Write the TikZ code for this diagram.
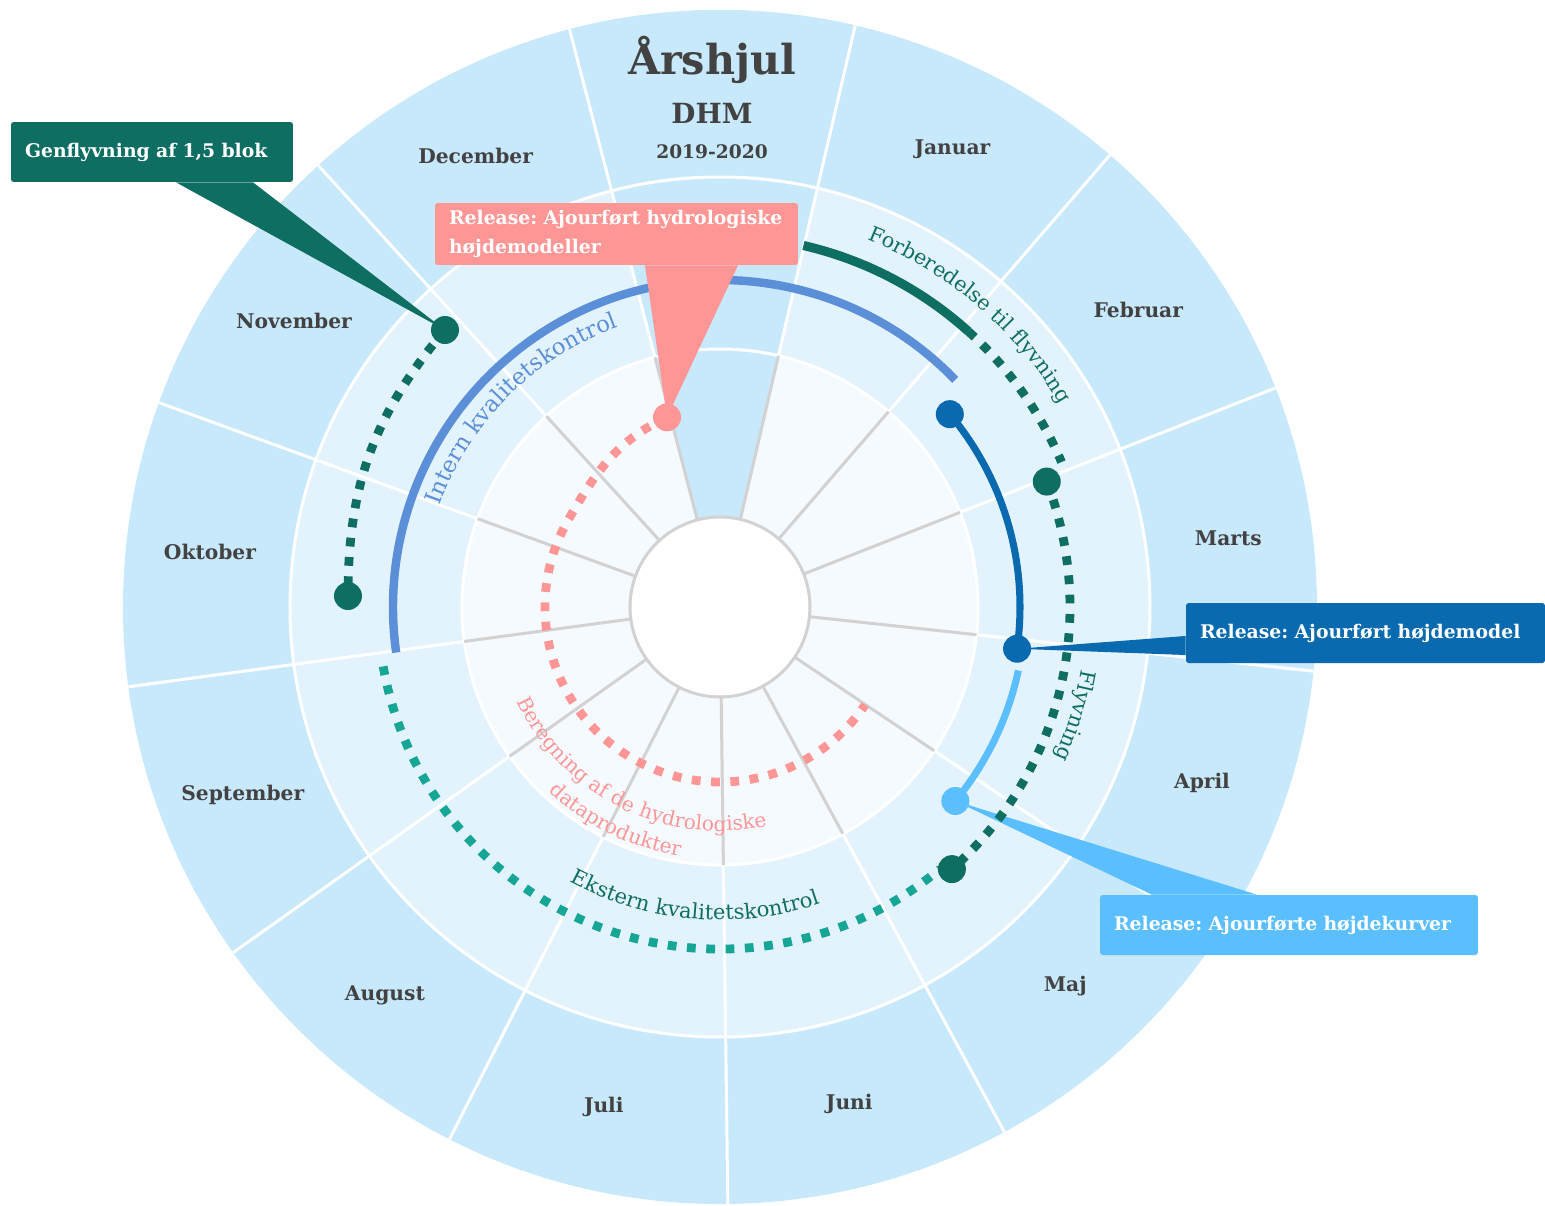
\documentclass[tikz,border=0pt]{standalone}
\usepackage{fontspec}
\setmainfont{DejaVu Serif}
\usetikzlibrary{calc, decorations.text}
\frenchspacing

\definecolor{ringout}{HTML}{C8E8FC}
\definecolor{ringmid}{HTML}{E3F3FE}
\definecolor{ringin}{HTML}{F5FAFF}
\definecolor{spoke}{HTML}{D2D2D2}
\definecolor{inktext}{HTML}{424242}
\definecolor{flygreen}{HTML}{0F6E62}
\definecolor{extteal}{HTML}{16A696}
\definecolor{intblue}{HTML}{5B8FD8}
\definecolor{modelblue}{HTML}{0A6AAF}
\definecolor{curveblue}{HTML}{5BBFFF}
\definecolor{hydropink}{HTML}{FF9696}

\begin{document}
\begin{tikzpicture}[
    x=0.02cm, y=0.02cm,
    month/.style={font=\bfseries\fontsize{11.5}{13}\selectfont, text=inktext},
    spokew/.style={draw=white, line width=1.7pt},
    spokeg/.style={draw=spoke, line width=1.7pt},
    dot/.style={circle, inner sep=0pt, minimum size=0.56cm},
    squares/.style={line width=5pt, dash pattern=on 5pt off 6pt},
    callout/.style={rectangle, rounded corners=1.5pt, text=white, align=left, inner xsep=0.28cm, minimum height=1.2cm, font=\bfseries\fontsize{10.7}{16.5}\selectfont},
    bend text/.style={decorate, decoration={text along path, text align=center, text={#1}}}
]
    \useasboundingbox (-720,-598) rectangle (825,607);

    % dot positions
    \coordinate (gen1) at (-275,277);
    \coordinate (gen2) at (-372,11);
    \coordinate (fly1) at (21:350);
    \coordinate (fly2) at (-48.5:350);
    \coordinate (mod1) at (40:300);
    \coordinate (mod2) at (-8:300);
    \coordinate (kur1) at (-39.5:305);
    \coordinate (hyd1) at (105.6:197);

    % wheel
    \fill[ringout] (0,0) circle[radius=597];
    \fill[ringmid] (0,0) circle[radius=430];
    \fill[ringin] (0,0) circle[radius=258];
    \fill[ringout] (76.9:90) arc[start angle=76.9, end angle=104.6, radius=90]
        -- (104.6:597) arc[start angle=104.6, end angle=76.9, radius=597] -- cycle;
    \draw[spokew] (0,0) circle[radius=430];
    \draw[spokew] (0,0) circle[radius=258];
    \foreach \k [evaluate=\k as \a using 104.6-27.6923*\k] in {0,...,12} {
        \draw[spokew] (\a:258) -- (\a:597);
        \draw[spokeg] (\a:90) -- (\a:258);
    }
    \node[circle, draw=spoke, fill=white, line width=1.7pt, minimum size=3.6cm] (hub) at (0,0) {};

    \foreach \m [count=\i] in {Januar,Februar,Marts,April,Maj,Juni,Juli,August,September,Oktober,November,December}
        \node[month] (m\i) at ({104.6-27.6923*(\i+0.5)}:513) {\m};

    \node[font=\bfseries\fontsize{23.5}{26}\selectfont, text=inktext] (title) at (-8,547) {Årshjul};
    \node[font=\bfseries\fontsize{15.8}{18}\selectfont, text=inktext] (dhm) at (-8,494) {DHM};
    \node[font=\bfseries\fontsize{10.6}{12}\selectfont, text=inktext] (years) at (-8,455) {2019-2020};

    % activities
    \draw[intblue, line width=4.8pt] (44:327) arc[start angle=44, end angle=188, radius=327];
    \path[bend text={|\color{intblue}\fontsize{13}{15}\selectfont|Intern kvalitetskontrol}]
        (175:298) arc[start angle=175, end angle=95, radius=298];

    \draw[hydropink, squares] (hyd1) to[out=205, in=60] (150:175) arc[start angle=150, end angle=326, radius=175];
    \path[bend text={|\color{hydropink}\fontsize{11.5}{13}\selectfont|Beregning af de hydrologiske}]
        (204:224) arc[start angle=204, end angle=283, radius=224];
    \path[bend text={|\color{hydropink}\fontsize{11.5}{13}\selectfont|dataprodukter}]
        (214:252) arc[start angle=214, end angle=274, radius=252];

    \draw[extteal, squares] (190:342) arc[start angle=190, end angle=310, radius=342];
    \path[bend text={|\color{flygreen}\fontsize{12}{14}\selectfont|Ekstern kvalitetskontrol}]
        (225:313) arc[start angle=225, end angle=305, radius=313];

    \draw[flygreen, line width=5.2pt] (77:371) arc[start angle=77, end angle=48, radius=371];
    \draw[flygreen, squares] (48:371) arc[start angle=48, end angle=23, radius=371];
    \path[bend text={|\color{flygreen}\fontsize{11.8}{13}\selectfont|Forberedelse til flyvning}]
        (80:396) arc[start angle=80, end angle=19, radius=396];

    \draw[flygreen, squares] (gen1) to[bend right=20] (gen2);

    \draw[modelblue, line width=4pt] (mod1) arc[start angle=40, end angle=-8, radius=300];
    \draw[curveblue, line width=4pt] (-12:305) arc[start angle=-12, end angle=-39.5, radius=305];

    % releases
    \node[callout, fill=modelblue, text width=6.62cm] (hbox) at (645.5,-26) {Release: Ajourført højdemodel};
    \fill[modelblue] (mod2) -- ($(hbox.west)+(0,-3)$) -- ($(hbox.west)+(0,-22)$) -- cycle;
    \node[callout, fill=curveblue, text width=7cm] (kbox) at (569,-318) {Release: Ajourførte højdekurver};
    \fill[curveblue] (kur1) -- ($(kbox.north)+(-137,0)$) -- ($(kbox.north)+(-32,0)$) -- cycle;

    \draw[flygreen, squares] (fly1) arc[start angle=21, end angle=-48.5, radius=350];
    \path[bend text={|\color{flygreen}\fontsize{12}{14}\selectfont|Flyvning}]
        (5:367) arc[start angle=5, end angle=-39, radius=367];

    \node[callout, fill=hydropink, text width=6.7cm, minimum height=1.24cm] (pbox) at (-103.5,373) {Release: Ajourført hydrologiske\\højdemodeller};
    \fill[hydropink] (hyd1) -- ($(pbox.south)+(28.5,0)$) -- ($(pbox.south)+(121.5,0)$) -- cycle;
    \node[callout, fill=flygreen, text width=5.08cm] (gbox) at (-568,455) {Genflyvning af 1,5 blok};
    \fill[flygreen] (gen1) -- ($(gbox.south)+(24,0)$) -- ($(gbox.south)+(101,0)$) -- cycle;

    % milestones
    \node[dot, fill=flygreen] (gendot1) at (gen1) {};
    \node[dot, fill=flygreen] (gendot2) at (gen2) {};
    \node[dot, fill=flygreen] (flydot1) at (fly1) {};
    \node[dot, fill=flygreen] (flydot2) at (fly2) {};
    \node[dot, fill=modelblue] (moddot1) at (mod1) {};
    \node[dot, fill=modelblue] (moddot2) at (mod2) {};
    \node[dot, fill=curveblue] (kurdot) at (kur1) {};
    \node[dot, fill=hydropink] (hyddot) at (hyd1) {};
\end{tikzpicture}
\end{document}
